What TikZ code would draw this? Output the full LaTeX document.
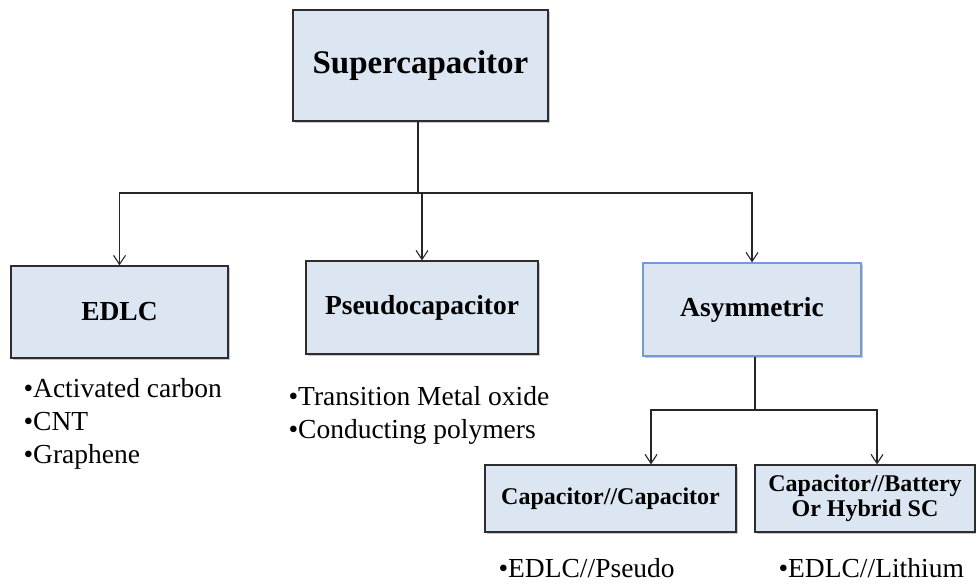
\documentclass[tikz,border=0pt]{standalone}
\usepackage{fontspec}
\setmainfont{Liberation Serif}
\usetikzlibrary{arrows.meta,shadows}
\tikzset {>={Straight Barb[length=9pt,width=12pt]}}
\definecolor{boxfill}{RGB}{220,230,242}
\definecolor{boxline}{RGB}{45,45,45}
\definecolor{asymline}{RGB}{115,155,210}
\tikzset{box/.style={draw=boxline,fill=boxfill,line width=1.3pt,inner sep=0pt,align=center,
  drop shadow={shadow xshift=1.5pt,shadow yshift=-2pt,opacity=0.3,fill=black!70}},
  item/.style={inner sep=0pt,anchor=base west,font=\fontsize{27.5}{33}\selectfont}}

\begin{document}
\begin{tikzpicture}[x=1pt,y=-1pt,line width=1.1pt,draw=black!85]
\useasboundingbox (0,0) rectangle (976,584);

\node[box,minimum width=255pt,minimum height=111pt,font=\fontsize{33}{40}\selectfont\bfseries] (sc) at (420.5,65.5) {Supercapacitor};

\node[box,minimum width=217pt,minimum height=92pt,font=\fontsize{27.5}{33}\selectfont\bfseries] (edlc) at (119.5,312) {EDLC};
\node[box,minimum width=232pt,minimum height=93pt,font=\fontsize{27.5}{33}\selectfont\bfseries] (pseudo) at (422,307.5) {Pseudocapacitor};
\node[box,draw=asymline,minimum width=218pt,minimum height=93pt,font=\fontsize{27.5}{33}\selectfont\bfseries] (asym) at (752,309.5) {Asymmetric};

\node[box,minimum width=251pt,minimum height=67pt,font=\fontsize{24}{25}\selectfont\bfseries] (cc) at (610.5,498.5) {Capacitor//Capacitor};
\node[box,minimum width=220pt,minimum height=67pt,font=\fontsize{24}{25}\selectfont\bfseries] (cb) at (865,498.5) {Capacitor//Battery\\Or Hybrid SC};

% materials
\node[item] (ac) at (23,397) {\textbullet Activated carbon};
\node[item] (cnt) at (23,430) {\textbullet CNT};
\node[item] (gr) at (23,463) {\textbullet Graphene};

\node[item] (tmo) at (288,405) {\textbullet Transition Metal oxide};
\node[item] (cp) at (288,438) {\textbullet Conducting polymers};

\node[item] (ep) at (498,577) {\textbullet EDLC//Pseudo};
\node[item] (el) at (778,577) {\textbullet EDLC//Lithium};

% connectors
\coordinate (split) at (418,193);
\draw (sc.south -| split) -- (split);
\draw[->] (split) -| (edlc.north);
\draw[->] (split) -| (pseudo.north);
\draw[->] (split) -| (asym.north);

\coordinate (split2) at (755,410);
\draw (asym.south -| split2) -- (split2);
\draw[->] (split2) -| ([xshift=40.5pt]cc.north);
\draw[->] (split2) -| ([xshift=12pt]cb.north);
\end{tikzpicture}
\end{document}
